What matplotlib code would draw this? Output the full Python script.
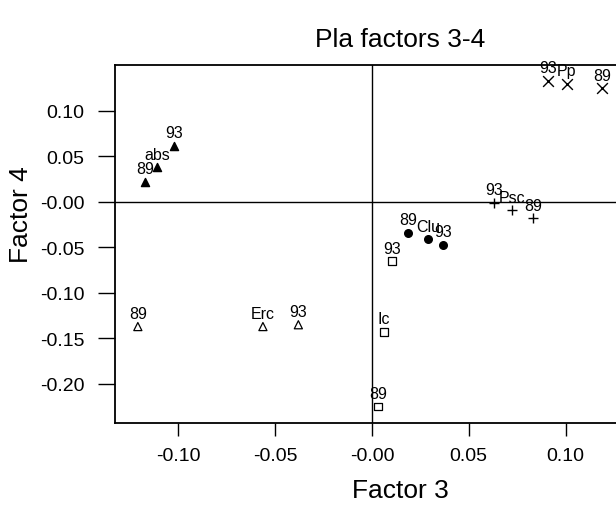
import matplotlib
matplotlib.use("Agg")
import matplotlib.pyplot as plt

plt.rcParams['font.family'] = ['Liberation Sans', 'DejaVu Sans']

# factor scores per group: 1989, mean, 1993
groups = ['abs', 'Erc', 'Ic', 'Clu', 'Psc', 'Pp']
point_labels = {
    'abs': ['89', 'abs', '93'],
    'Erc': ['89', 'Erc', '93'],
    'Ic':  ['89', 'Ic', '93'],
    'Clu': ['89', 'Clu', '93'],
    'Psc': ['89', 'Psc', '93'],
    'Pp':  ['89', 'Pp', '93'],
}
factor3 = {
    'abs': [-0.1173, -0.1111, -0.1023],
    'Erc': [-0.1209, -0.0563, -0.0380],
    'Ic':  [0.0031, 0.0062, 0.0103],
    'Clu': [0.0186, 0.0290, 0.0367],
    'Psc': [0.0832, 0.0723, 0.0630],
    'Pp':  [0.1188, 0.1007, 0.0909],
}
factor4 = {
    'abs': [0.022, 0.038, 0.0615],
    'Erc': [-0.137, -0.137, -0.135],
    'Ic':  [-0.225, -0.143, -0.065],
    'Clu': [-0.034, -0.041, -0.047],
    'Psc': [-0.018, -0.009, -0.001],
    'Pp':  [0.125, 0.130, 0.133],
}

x_ticks = [-0.10, -0.05, 0.00, 0.05, 0.10]
x_ticklabels = ['-0.10', '-0.05', '-0.00', '0.05', '0.10']
y_ticks = [0.10, 0.05, 0.00, -0.05, -0.10, -0.15, -0.20]
y_ticklabels = ['0.10', '0.05', '-0.00', '-0.05', '-0.10', '-0.15', '-0.20']

styles = {
    'abs': dict(marker='^', s=34, facecolors='black', edgecolors='black'),
    'Erc': dict(marker='^', s=34, facecolors='none', edgecolors='black', linewidths=0.9),
    'Ic':  dict(marker='s', s=28, facecolors='none', edgecolors='black', linewidths=0.9),
    'Clu': dict(marker='o', s=30, c='black'),
    'Psc': dict(marker='+', s=60, c='black', linewidths=1.0),
    'Pp':  dict(marker='x', s=60, c='black', linewidths=1.0),
}

fig = plt.figure(figsize=(6.16, 5.06), dpi=100)
ax = fig.add_axes([115 / 616, 1 - 424 / 506, 570 / 616, 358 / 506])

ax.axhline(0, color='black', lw=1.0, zorder=1)
ax.axvline(0, color='black', lw=1.0, zorder=1)

for g in groups:
    ax.scatter(factor3[g], factor4[g], zorder=3, clip_on=False, **styles[g])
    for xv, yv, lab in zip(factor3[g], factor4[g], point_labels[g]):
        ax.annotate(lab, (xv, yv), xytext=(0, 4), textcoords='offset points',
                    ha='center', va='bottom', fontsize=11.5, annotation_clip=False)

ax.set_xlim(-0.1327, 0.1617)
ax.set_ylim(-0.243, 0.1505)
ax.set_xticks(x_ticks)
ax.set_xticklabels(x_ticklabels)
ax.set_yticks(y_ticks)
ax.set_yticklabels(y_ticklabels)
ax.tick_params(axis='x', length=9, width=1.0, labelsize=14, pad=8)
ax.tick_params(axis='y', length=12, width=1.0, labelsize=14, pad=10)
for sp in ax.spines.values():
    sp.set_linewidth(1.3)

ax.set_xlabel('Factor 3', fontsize=19, labelpad=10)
ax.set_ylabel('Factor 4', fontsize=19)
ax.yaxis.set_label_coords((33 - 115) / 570, (424 - 215) / 358)
ax.set_title('Pla factors 3-4', fontsize=19, pad=14)

fig.savefig('out.png', dpi=100)
